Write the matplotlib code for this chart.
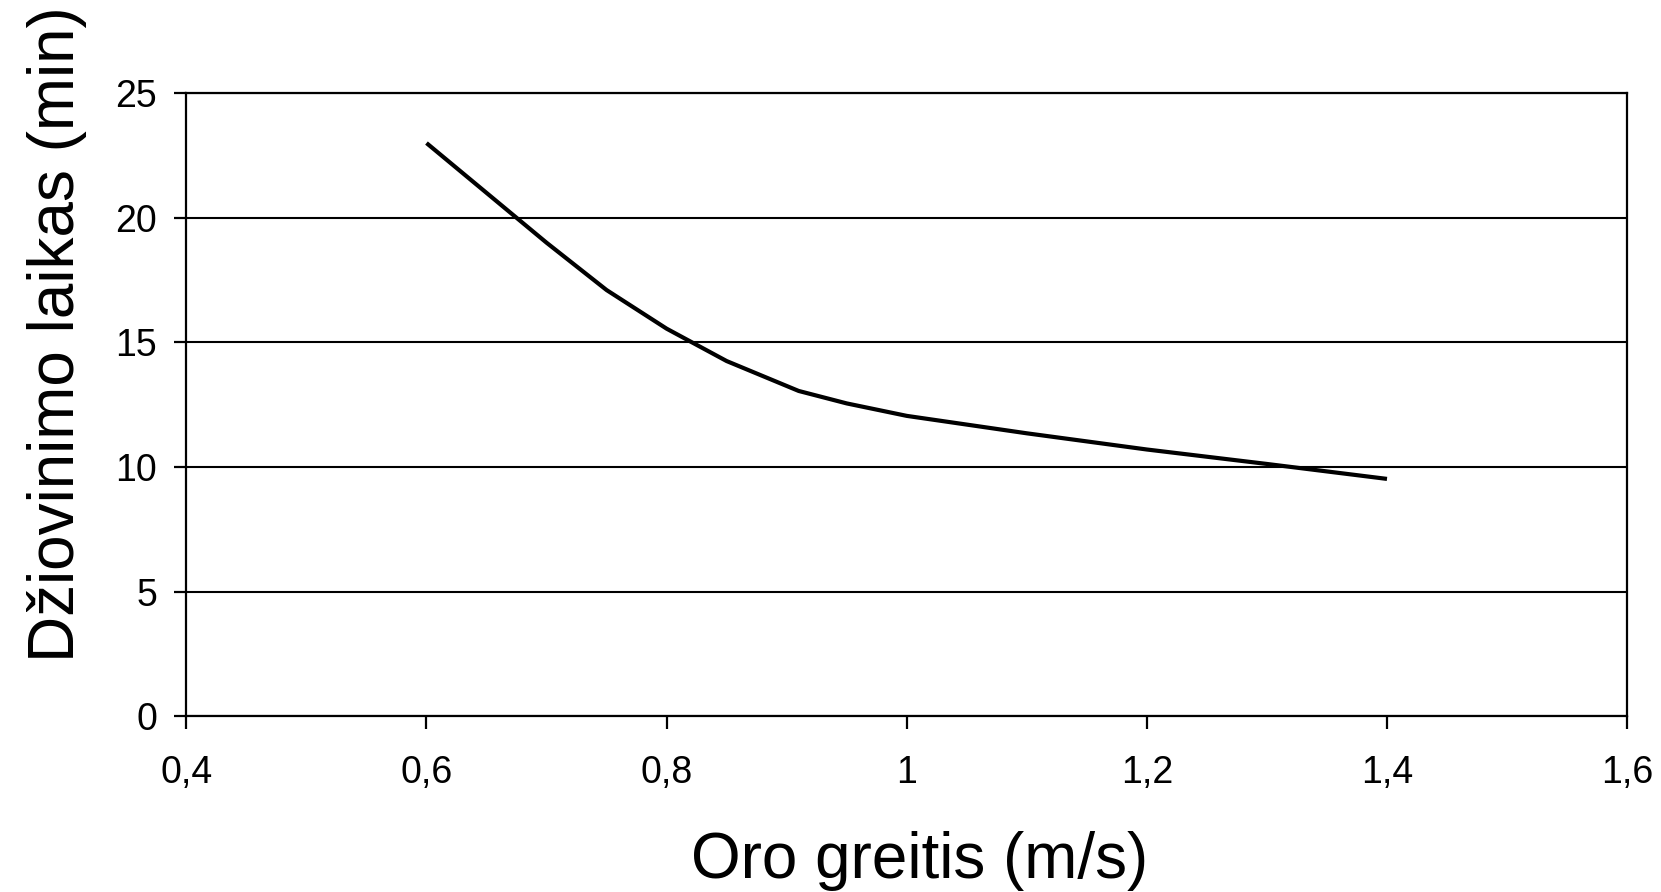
import numpy as np
import matplotlib
matplotlib.use("Agg")
import matplotlib.pyplot as plt

# Data
airSpeed = [0.6, 0.65, 0.7, 0.75, 0.8, 0.85, 0.91, 0.95, 1.0, 1.1, 1.2, 1.3, 1.4]
dryingTime = [23.0, 21.0, 19.0, 17.1, 15.55, 14.25, 13.05, 12.55, 12.05, 11.35, 10.7, 10.12, 9.52]

xTicks = [0.4, 0.6, 0.8, 1.0, 1.2, 1.4, 1.6]
xTickLabels = ["0,4", "0,6", "0,8", "1", "1,2", "1,4", "1,6"]
yTicks = [0, 5, 10, 15, 20, 25]

xLabel = "Oro greitis (m/s)"
yLabel = "Džiovinimo laikas (min)"

plt.rcParams["font.family"] = ["Liberation Sans", "DejaVu Sans"]

fig = plt.figure(figsize=(16.61, 8.92), dpi=100)
ax = fig.add_axes([0.1122, 0.1972, 0.8674, 0.6983])

ax.plot(airSpeed, dryingTime, color="k", linewidth=3.0, solid_capstyle="butt", zorder=3)

ax.set_xlim(0.4, 1.6)
ax.set_ylim(0, 25)
ax.set_xticks(xTicks)
ax.set_xticklabels(xTickLabels)
ax.set_yticks(yTicks)

ax.grid(axis="y", color="k", linewidth=1.5)
ax.set_axisbelow(True)
for s in ax.spines.values():
    s.set_linewidth(1.6)
    s.set_color("k")

ax.tick_params(axis="both", direction="out", length=9, width=1.6, labelsize=27, colors="k")
ax.tick_params(axis="x", pad=19)
ax.tick_params(axis="y", pad=12)

ax.set_xlabel(xLabel, fontsize=46)
ax.xaxis.set_label_coords(0.509, -0.185)
ax.set_ylabel(yLabel, fontsize=46, va="center")
ax.yaxis.set_label_coords(-0.09, 0.613)

fig.savefig("out.png", dpi=100)
